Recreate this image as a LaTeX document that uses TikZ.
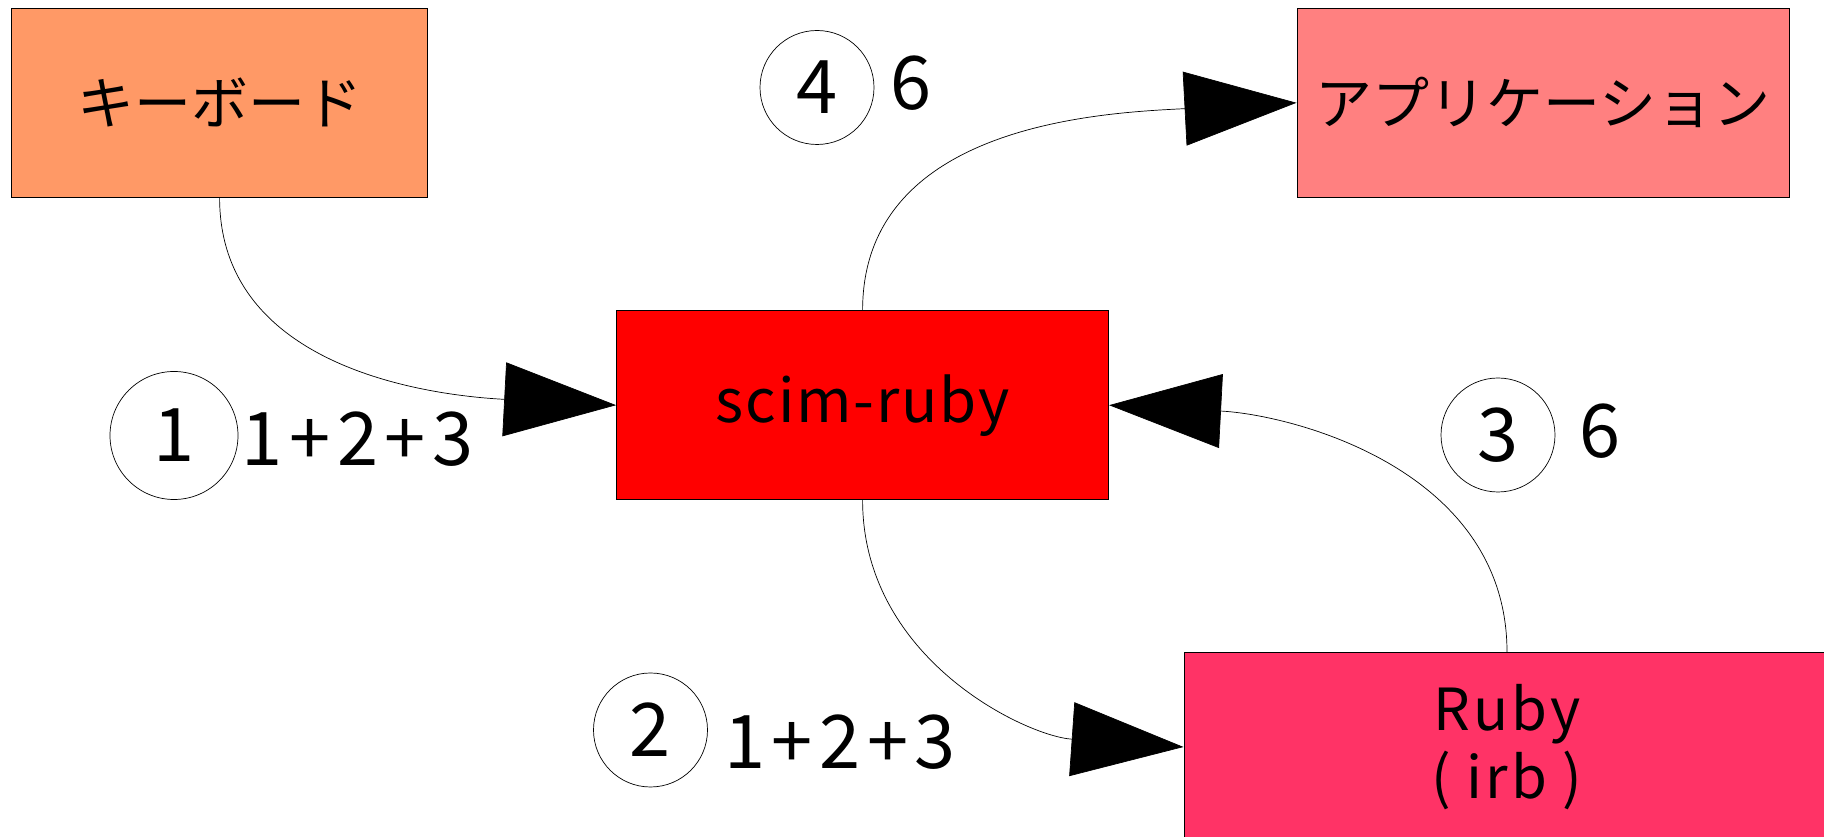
\documentclass[tikz,border=0pt]{standalone}
\usepackage{fontspec}
\setmainfont{Noto Sans CJK JP}
\newfontfamily\spacedfont[LetterSpace=9]{Noto Sans CJK JP}
\newfontfamily\widefont[LetterSpace=5]{Noto Sans CJK JP}
\newfontfamily\scimfont[LetterSpace=3]{Noto Sans CJK JP}
\usetikzlibrary{arrows.meta, positioning}
\definecolor{keycol}{HTML}{FF9966}
\definecolor{appcol}{HTML}{FF8080}
\definecolor{scimcol}{HTML}{FF0000}
\definecolor{rubycol}{HTML}{FF3366}
\tikzset{
  >={Triangle[length=112pt,width=74pt]},
  box/.style={draw, line width=1pt, minimum height=189pt, inner sep=0pt,
    font=\fontsize{57}{60}\selectfont},
  numcircle/.style={circle, draw, line width=0.7pt, minimum size=114pt,
    inner sep=0pt, font=\fontsize{74}{80}\selectfont},
  numtext/.style={inner sep=0pt, font=\spacedfont\fontsize{74}{80}\selectfont},
  flow/.style={->, line width=0.7pt},
}

\begin{document}
\begin{tikzpicture}[x=1pt, y=1pt]
  \path[use as bounding box, clip] (0,0) rectangle (1824,837);

  % blocks
  \node[box, fill=keycol, minimum width=416pt]  (kbd)  at (219.6,734.2) {キーボード};
  \node[box, fill=appcol, minimum width=492pt]  (app)  at (1543,734.2)  {アプリケーション};
  \node[box, fill=scimcol, minimum width=492pt, font=\scimfont\fontsize{60}{62}\selectfont]
        (scim) at (862.6,431.8) {scim-ruby};
  \node[box, fill=rubycol, minimum width=646pt, align=center,
        font=\widefont\fontsize{58}{68}\selectfont]
        (ruby) at (1507,90) {Ruby\\( irb )};

  % steps
  \node[numcircle, minimum size=128pt] (c1) at (174,401.5) {1};
  \node[numcircle]                     (c2) at (650.5,107) {2};
  \node[numcircle]                     (c3) at (1498,402)  {3};
  \node[numcircle]                     (c4) at (817,749.5) {4};

  \node[numtext, right=3pt of c1, yshift=-4pt]   (l1) {1+2+3};
  \node[numtext, right=16pt of c2, yshift=-12pt] (l2) {1+2+3};
  \node[numtext, right=24pt of c3, yshift=4pt]   (l3) {6};
  \node[numtext, right=16pt of c4, yshift=4pt]   (l4) {6};

  % flows
  \draw[flow] (kbd.south)  to[out=-90, in=177] (scim.west);
  \draw[flow] (scim.south) to[out=-90, in=176] (ruby.west);
  \draw[flow] (ruby.north) to[out=90,  in=-3]  (scim.east);
  \draw[flow] (scim.north) to[out=90,  in=183] (app.west);
\end{tikzpicture}
\end{document}
